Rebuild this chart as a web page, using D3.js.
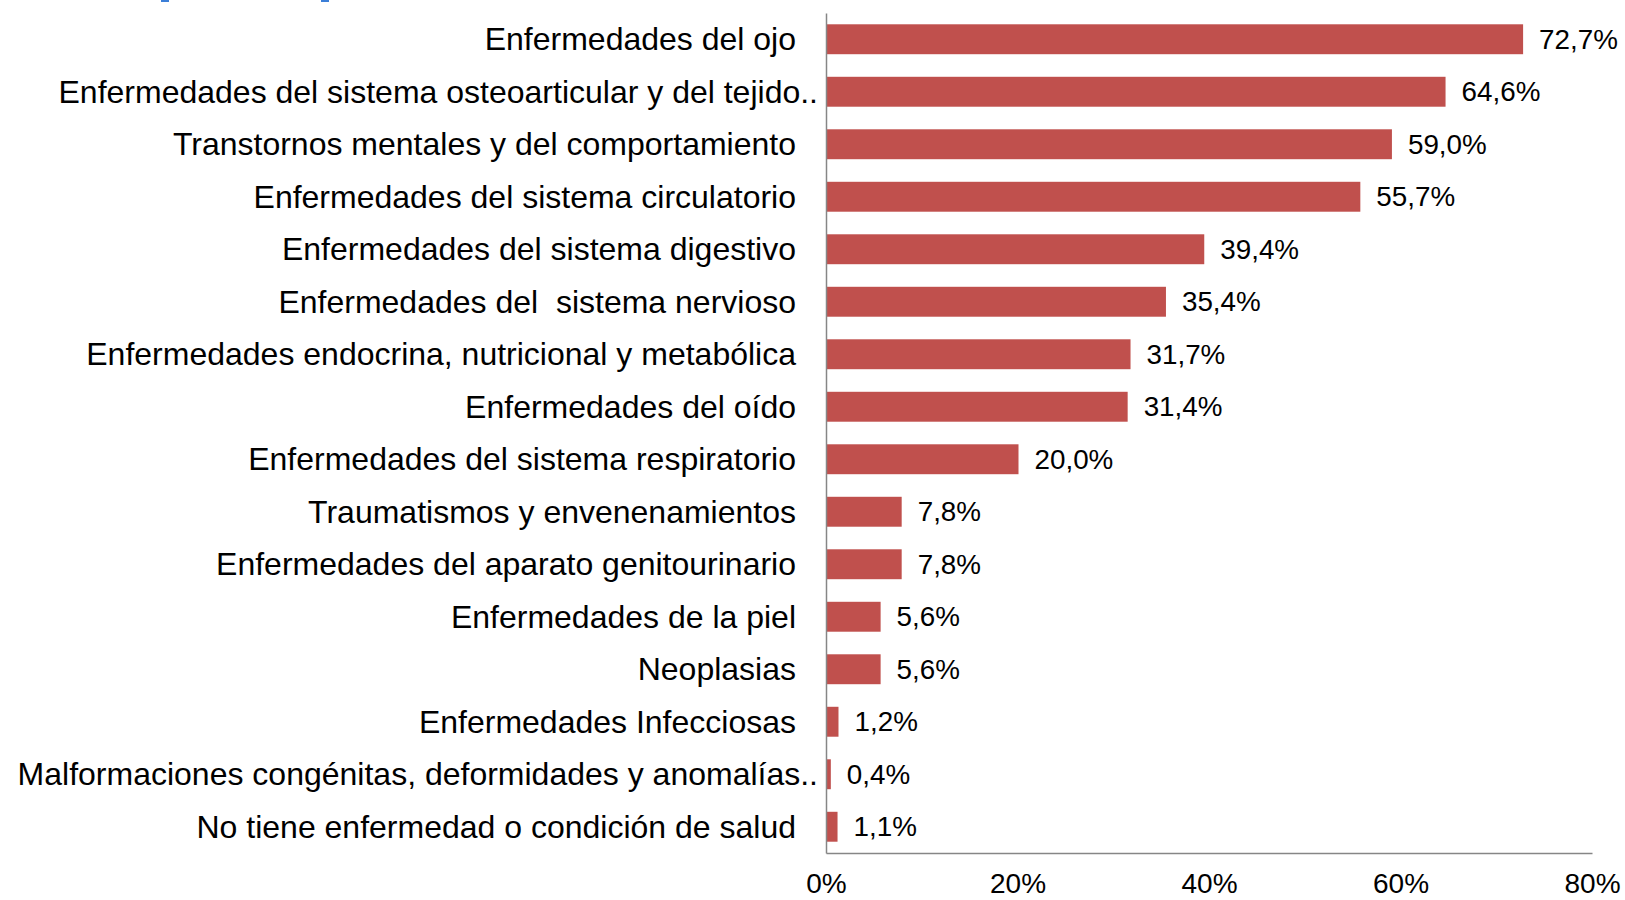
<!DOCTYPE html>
<html>
<head>
<meta charset="utf-8">
<script src="https://cdn.jsdelivr.net/npm/d3@7"></script>
<style>
  html, body { margin: 0; padding: 0; background: #fff; }
  svg { display: block; }
  text { font-family: "Liberation Sans", Arial, sans-serif; white-space: pre; }
</style>
</head>
<body>
<svg id="chart" width="1625" height="900"></svg>
<script>
const categories = [
  "Enfermedades del ojo",
  "Enfermedades del sistema osteoarticular y del tejido..",
  "Transtornos mentales y del comportamiento",
  "Enfermedades del sistema circulatorio",
  "Enfermedades del sistema digestivo",
  "Enfermedades del  sistema nervioso",
  "Enfermedades endocrina, nutricional y metabólica",
  "Enfermedades del oído",
  "Enfermedades del sistema respiratorio",
  "Traumatismos y envenenamientos",
  "Enfermedades del aparato genitourinario",
  "Enfermedades de la piel",
  "Neoplasias",
  "Enfermedades Infecciosas",
  "Malformaciones congénitas, deformidades y anomalías..",
  "No tiene enfermedad o condición de salud"
];
const values = [72.7, 64.6, 59.0, 55.7, 39.4, 35.4, 31.7, 31.4, 20.0, 7.8, 7.8, 5.6, 5.6, 1.2, 0.4, 1.1];
const valueLabels = ["72,7%", "64,6%", "59,0%", "55,7%", "39,4%", "35,4%", "31,7%", "31,4%", "20,0%", "7,8%", "7,8%", "5,6%", "5,6%", "1,2%", "0,4%", "1,1%"];
const tickValues = [0, 20, 40, 60, 80];
const tickLabels = ["0%", "20%", "40%", "60%", "80%"];

const svg = d3.select("#chart");
const plotLeft = 826, plotRight = 1592, plotTop = 13, plotBottom = 853;

const x = d3.scaleLinear().domain([0, 80]).range([plotLeft, plotRight]);
const y = d3.scaleBand().domain(categories).range([plotTop, plotBottom]).paddingInner(0.43).paddingOuter(0.215);

// small blue marks at the top edge
svg.append("g").selectAll("rect").data([161, 321]).join("rect")
  .attr("x", d => d).attr("y", 0).attr("width", 8).attr("height", 2).attr("fill", "#3C7FD8");

// bars
svg.append("g").selectAll("rect").data(values).join("rect")
  .attr("x", x(0) + 1)
  .attr("y", (d, i) => y(categories[i]))
  .attr("width", d => Math.max(0, x(d) - x(0)))
  .attr("height", y.bandwidth())
  .attr("fill", "#C0504D");

// value labels
svg.append("g").selectAll("text").data(values).join("text")
  .attr("x", d => x(d) + 17)
  .attr("y", (d, i) => y(categories[i]) + y.bandwidth() / 2)
  .attr("dy", "0.35em")
  .attr("font-size", "27.8px")
  .attr("fill", "#000")
  .text((d, i) => valueLabels[i]);

// category labels
svg.append("g").selectAll("text").data(categories).join("text")
  .attr("x", d => d.endsWith("..") ? 818 : 796)
  .attr("y", d => y(d) + y.bandwidth() / 2)
  .attr("dy", "0.35em")
  .attr("text-anchor", "end")
  .attr("font-size", "32px")
  .attr("fill", "#000")
  .text(d => d);

// axes
const xAxis = d3.axisBottom(x).tickValues(tickValues).tickSize(0).tickPadding(0)
  .tickFormat((d, i) => tickLabels[i]);
const gx = svg.append("g").attr("transform", `translate(0,${plotBottom})`).call(xAxis);
gx.select(".domain").attr("stroke", "#868686").attr("stroke-width", 1.5);
gx.selectAll("text").attr("font-size", "28px").attr("fill", "#000")
  .attr("font-family", "Liberation Sans, Arial, sans-serif")
  .attr("dy", null).attr("y", 40);

const yAxis = d3.axisLeft(y).tickSize(0).tickFormat("");
const gy = svg.append("g").attr("transform", `translate(${plotLeft},0)`).call(yAxis);
gy.select(".domain").attr("stroke", "#868686").attr("stroke-width", 1.5);
</script>
</body>
</html>
